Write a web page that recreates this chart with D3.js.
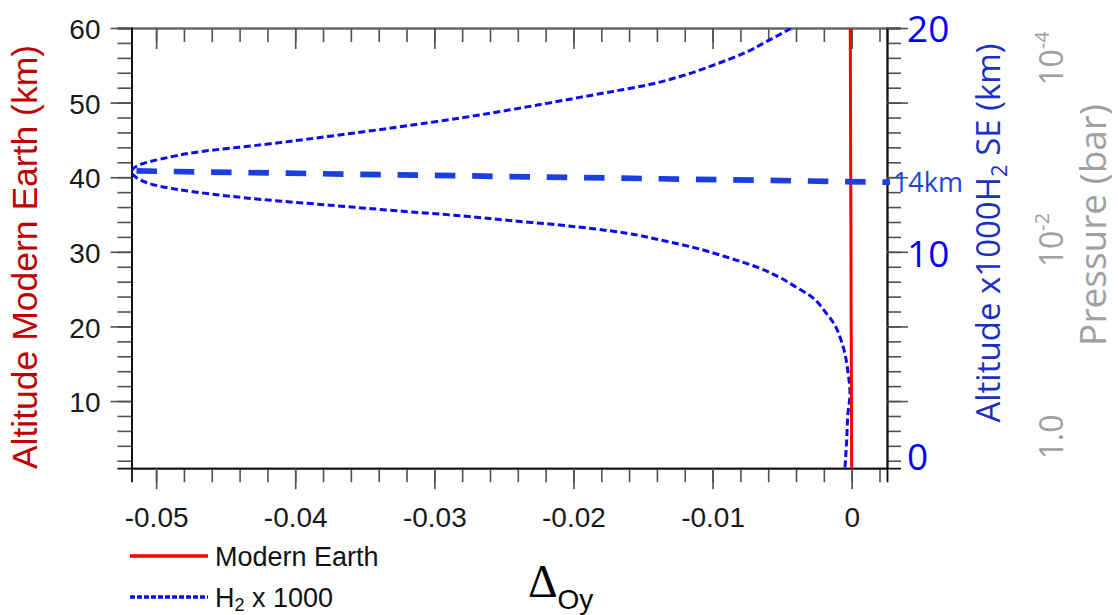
<!DOCTYPE html>
<html>
<head>
<meta charset="utf-8">
<script src="https://cdn.jsdelivr.net/npm/d3@7"></script>
<style>
  body { margin: 0; background: #fff; }
  svg { display: block; }
</style>
</head>
<body>
<div id="chart"></div>
<script>
// Modern Earth profile: altitude (km) vs delta
const earthAlt = [1, 30, 60];
const earthDelta = [0, -0.00005, -0.0001];

// H2 x 1000 profile, lower branch up to the tip, then upper branch to the top
const h2Alt = [1.1, 4.7, 8.3, 11.0, 13.7, 17.2, 18.1, 20.6, 21.7, 24.0, 25.5, 26.6, 27.8, 29.3, 30.6, 31.6,
               32.5, 33.1, 33.6, 34.2, 34.8, 35.5, 36.25, 37.0, 38.0, 38.7, 39.6, 40.8,
               41.85, 42.5, 43.36, 44.37, 45.5, 46.7, 48.0, 49.1, 49.9, 50.7, 51.5, 52.35, 53.5,
               55.0, 56.8, 58.2, 60];
const h2Delta = [-0.00048, -0.00036, -0.00027, -0.00012, -0.00025, -0.0006, -0.00075, -0.00135, -0.0018, -0.0029, -0.0042, -0.0052, -0.0066, -0.0090, -0.0114, -0.0138,
                 -0.0162, -0.0186, -0.0210, -0.0246, -0.0279, -0.0327, -0.0375, -0.0423, -0.0471, -0.0495, -0.0511, -0.05175,
                 -0.0509, -0.0495, -0.0471, -0.0423, -0.0375, -0.0327, -0.0279, -0.02435, -0.0219, -0.01955, -0.01716, -0.01472, -0.01234,
                 -0.00997, -0.00753, -0.0061, -0.0043];

// 14 km marker
const markerAlt = [40.85, 39.33];
const markerDelta = [-0.05177, 0.00275];
const markerLabel = "14km";

// axis ticks and labels
const xTicks = [-0.05, -0.04, -0.03, -0.02, -0.01, 0];
const xTickLabels = ["-0.05", "-0.04", "-0.03", "-0.02", "-0.01", "0"];
const yTicks = [10, 20, 30, 40, 50, 60];
const rightTicks = [0, 10, 20];
const pressureExp = [0, -2, -4];
const pressureBase = ["1.0", "10", "10"];
const pressureSup = ["", "-2", "-4"];

const W = 1118, H = 615;
const margin = { top: 28, right: 231, bottom: 147, left: 131.5 };

const svg = d3.select("#chart").append("svg")
    .attr("width", W)
    .attr("height", H);

const x = d3.scaleLinear()
    .domain([-0.05177, 0.00254])
    .range([margin.left, W - margin.right]);

const y = d3.scaleLinear()
    .domain([1, 60])
    .range([H - margin.bottom + 0.2, margin.top]);

// right hand (x1000 H2 SE) labels and pressure labels
const yRight = d3.scaleLinear().domain([0, 10, 20]).range([457, 254, 29]);
const yPress = d3.scaleLinear().domain([0, -2, -4]).range([437, 240, 58.5]);

const tickColor = "#505050";
const major = 21, minor = 14;
const minorX = d3.range(-0.05, 0.0021, 0.002);
const minorY = d3.range(2, 61, 2);

function styleAxis(g, domainColor) {
    g.selectAll(".tick line").attr("stroke", tickColor).attr("stroke-width", 1.6);
    g.select(".domain").attr("stroke", domainColor).attr("stroke-width", 1.8);
}

// bottom axis
const gBottomMinor = svg.append("g")
    .attr("transform", `translate(0,${y(1)})`)
    .call(d3.axisBottom(x).tickValues(minorX).tickSize(minor).tickFormat(""));
styleAxis(gBottomMinor, "#111");

const gBottom = svg.append("g")
    .attr("transform", `translate(0,${y(1)})`)
    .call(d3.axisBottom(x).tickValues(xTicks).tickSize(major).tickSizeOuter(0).tickPadding(18)
        .tickFormat((d, i) => xTickLabels[i]));
styleAxis(gBottom, "#111");
gBottom.selectAll("text")
    .attr("font-family", "'Liberation Sans', Arial, sans-serif")
    .attr("font-size", 28)
    .attr("fill", "#1a1a1a");

// top axis, ticks point inward
const gTopMinor = svg.append("g")
    .attr("transform", `translate(0,${margin.top})`)
    .call(d3.axisTop(x).tickValues(minorX).tickSize(-minor).tickFormat(""));
styleAxis(gTopMinor, "#666");
const gTop = svg.append("g")
    .attr("transform", `translate(0,${margin.top})`)
    .call(d3.axisTop(x).tickValues(xTicks).tickSize(-major).tickSizeOuter(0).tickFormat(""));
styleAxis(gTop, "#666");

// left axis
const gLeftMinor = svg.append("g")
    .attr("transform", `translate(${margin.left},0)`)
    .call(d3.axisLeft(y).tickValues(minorY).tickSize(minor).tickFormat(""));
styleAxis(gLeftMinor, "#111");
const gLeft = svg.append("g")
    .attr("transform", `translate(${margin.left},0)`)
    .call(d3.axisLeft(y).tickValues(yTicks).tickSize(major).tickSizeOuter(0).tickPadding(10));
styleAxis(gLeft, "#111");
gLeft.selectAll("text")
    .attr("font-family", "'Liberation Sans', Arial, sans-serif")
    .attr("font-size", 28)
    .attr("dy", "0.38em")
    .attr("fill", "#1a1a1a");

// right axis mirrors the left ticks
const gRightMinor = svg.append("g")
    .attr("transform", `translate(${W - margin.right},0)`)
    .call(d3.axisRight(y).tickValues(minorY).tickSize(minor).tickFormat(""));
styleAxis(gRightMinor, "#111");
const gRight = svg.append("g")
    .attr("transform", `translate(${W - margin.right},0)`)
    .call(d3.axisRight(y).tickValues(yTicks).tickSize(major).tickSizeOuter(0).tickFormat(""));
styleAxis(gRight, "#111");

svg.append("g")
    .selectAll("text")
    .data(rightTicks)
    .join("text")
    .attr("x", W - margin.right + 20)
    .attr("y", d => yRight(d))
    .attr("dy", "0.36em")
    .attr("font-family", "'Open Sans', sans-serif")
    .attr("font-size", 37)
    .attr("fill", "#0000ff")
    .text(d => d);

// pressure labels (rotated)
const pLabels = svg.append("g")
    .selectAll("text")
    .data(pressureExp)
    .join("text")
    .attr("transform", d => `translate(1063,${yPress(d)}) rotate(-90)`)
    .attr("text-anchor", "middle")
    .attr("font-family", "'Open Sans', sans-serif")
    .attr("font-size", 32)
    .attr("fill", "#a0a0a0");
pLabels.append("tspan").text((d, i) => pressureBase[i]);
pLabels.append("tspan")
    .attr("font-size", 20)
    .attr("dy", -14)
    .text((d, i) => pressureSup[i]);

// clip to plot area
svg.append("clipPath").attr("id", "plot-clip")
    .append("rect")
    .attr("x", margin.left)
    .attr("y", margin.top)
    .attr("width", W - margin.right - margin.left)
    .attr("height", y(1) - margin.top);

const line = d3.line()
    .x(d => x(d[0]))
    .y(d => y(d[1]))
    .curve(d3.curveMonotoneY);

// H2 x 1000 curve
svg.append("path")
    .datum(h2Alt.map((a, i) => [h2Delta[i], a]))
    .attr("clip-path", "url(#plot-clip)")
    .attr("fill", "none")
    .attr("stroke", "#0a0af5")
    .attr("stroke-width", 3)
    .attr("stroke-dasharray", "7,3.5")
    .attr("d", line);

// Modern Earth line
svg.append("path")
    .datum(earthAlt.map((a, i) => [earthDelta[i], a]))
    .attr("fill", "none")
    .attr("stroke", "#ff0000")
    .attr("stroke-width", 3)
    .attr("d", line);

// 14 km marker line
svg.append("path")
    .datum(markerAlt.map((a, i) => [markerDelta[i], a]))
    .attr("fill", "none")
    .attr("stroke", "#1a3ee0")
    .attr("stroke-width", 5.7)
    .attr("stroke-dasharray", "20.5,16.8")
    .attr("stroke-dashoffset", -5)
    .attr("d", d3.line().x(d => x(d[0])).y(d => y(d[1])));

svg.append("text")
    .attr("x", x(markerDelta[1]) + 3)
    .attr("y", y(markerAlt[1]))
    .attr("dy", "0.36em")
    .attr("font-family", "'Open Sans', sans-serif")
    .attr("font-size", 27)
    .attr("fill", "#2244dd")
    .text(markerLabel);

// axis titles
svg.append("text")
    .attr("transform", "translate(37,257) rotate(-90)")
    .attr("text-anchor", "middle")
    .attr("font-family", "'Liberation Sans', Arial, sans-serif")
    .attr("font-size", 35.5)
    .attr("fill", "#c00000")
    .text("Altitude Modern Earth (km)");

const rTitle = svg.append("text")
    .attr("transform", "translate(1000,233) rotate(-90)")
    .attr("text-anchor", "middle")
    .attr("font-family", "'Open Sans', sans-serif")
    .attr("font-size", 33)
    .attr("fill", "#1c2fc4");
rTitle.append("tspan").text("Altitude x1000H");
rTitle.append("tspan").attr("font-size", 22).attr("dy", 7).text("2");
rTitle.append("tspan").attr("dy", -7).text(" SE (km)");

svg.append("text")
    .attr("transform", "translate(1106,225) rotate(-90)")
    .attr("text-anchor", "middle")
    .attr("font-family", "'Open Sans', sans-serif")
    .attr("font-size", 37)
    .attr("fill", "#a0a0a0")
    .text("Pressure (bar)");

const xTitle = svg.append("text")
    .attr("x", 528)
    .attr("y", 597);
xTitle.append("tspan")
    .attr("font-family", "'Liberation Serif', 'Times New Roman', serif")
    .attr("font-size", 46)
    .text("Δ");
xTitle.append("tspan")
    .attr("font-family", "'Liberation Sans', Arial, sans-serif")
    .attr("font-size", 28)
    .attr("dy", 12)
    .text("Oy");

// legend
const legendItems = [
    { label: "Modern Earth", sub: null, color: "#ff0000", dash: null },
    { label: "H", sub: "2", rest: " x 1000", color: "#0a0af5", dash: "5,2" }
];
const legend = svg.append("g").attr("transform", "translate(130,556)");
legendItems.forEach((item, i) => {
    const g = legend.append("g").attr("transform", `translate(0,${i * 41})`);
    g.append("line")
        .attr("x1", 0).attr("x2", 78)
        .attr("stroke", item.color)
        .attr("stroke-width", 3.5)
        .attr("stroke-dasharray", item.dash);
    const t = g.append("text")
        .attr("x", 85)
        .attr("y", 10)
        .attr("font-family", "'Liberation Sans', Arial, sans-serif")
        .attr("font-size", 27)
        .attr("fill", "#111");
    t.append("tspan").text(item.label);
    if (item.sub) {
        t.append("tspan").attr("font-size", 18).attr("dy", 4).text(item.sub);
        t.append("tspan").attr("dy", -4).text(item.rest);
    }
});
</script>
</body>
</html>
